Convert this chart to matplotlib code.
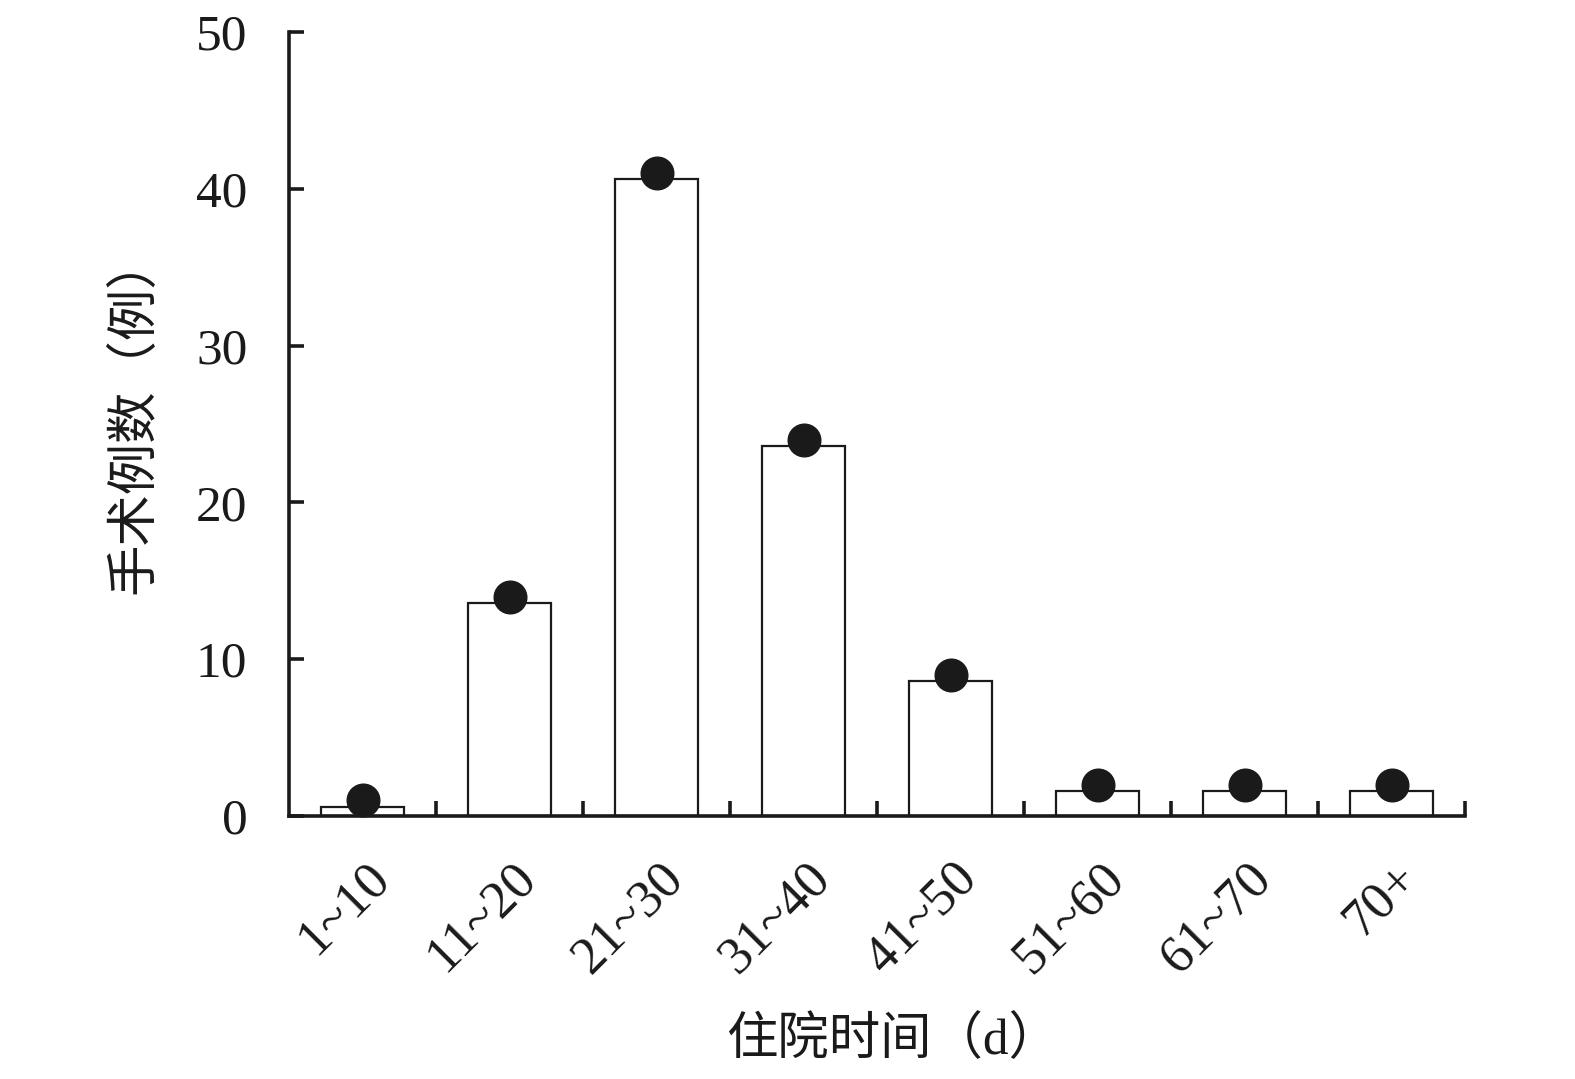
import matplotlib
matplotlib.use("Agg")
import matplotlib.pyplot as plt
import numpy as np

categories = ["1~10", "11~20", "21~30", "31~40", "41~50", "51~60", "61~70", "70+"]
bar_values = [0.6, 13.6, 40.6, 23.6, 8.6, 1.6, 1.6, 1.6]
dot_values = [1, 14, 41, 24, 9, 2, 2, 2]
y_ticks = [0, 10, 20, 30, 40, 50]

fam = ["Liberation Serif", "Noto Sans CJK SC"]
plt.rcParams["font.family"] = fam

fig = plt.figure(figsize=(15.75, 10.79), dpi=100)
ax = fig.add_axes([0.1835, 0.2437, 0.7467, 0.7266])

x = np.arange(len(categories))
ax.bar(x, bar_values, width=0.565, color="white", edgecolor="#1a1a1a", linewidth=1.6, zorder=2)
ax.plot(x, dot_values, "o", color="#1a1a1a", markersize=23.5, linestyle="none", zorder=3, clip_on=False)

ax.set_xlim(-0.5, 7.5)
ax.set_ylim(0, 50)
ax.set_yticks(y_ticks)
ax.set_yticklabels([str(v) for v in y_ticks], fontsize=37, color="#1a1a1a")
ax.set_xticks(np.arange(0.5, 8.0, 1.0))
ax.set_xticklabels([])

for s in ["top", "right"]:
    ax.spines[s].set_visible(False)
for s in ["left", "bottom"]:
    ax.spines[s].set_linewidth(2.6)
    ax.spines[s].set_color("#1a1a1a")
ax.tick_params(axis="y", direction="in", length=11, width=2.6, pad=30, color="#1a1a1a")
ax.tick_params(axis="x", direction="in", length=11, width=2.6, color="#1a1a1a")

for i, lab in enumerate(categories):
    ax.annotate(lab, xy=(i, 0), xycoords=("data", "axes fraction"),
                xytext=(26, -27), textcoords="offset points",
                rotation=45, ha="right", va="top", fontsize=38, color="#1a1a1a")

fig.text(0.567, 0.036, "住院时间（d）", ha="center", va="center", fontsize=37, color="#1a1a1a")
fig.text(0.086, 0.616, "手术例数（例）", ha="center", va="center", rotation=90, fontsize=37, color="#1a1a1a")

fig.savefig("out.png", dpi=100, facecolor="white")
